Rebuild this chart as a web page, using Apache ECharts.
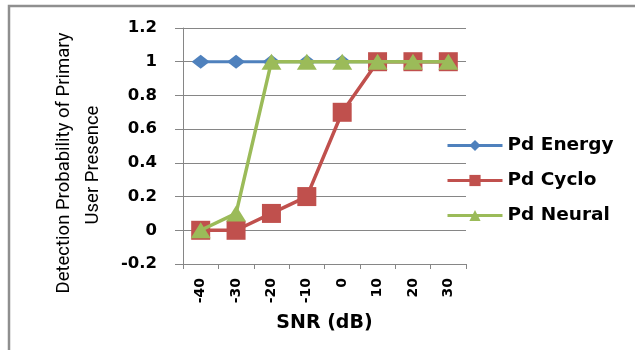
<!DOCTYPE html>
<html>
<head>
<meta charset="utf-8">
<script src="https://cdn.jsdelivr.net/npm/echarts@6/dist/echarts.min.js"></script>
<style>
  html, body { margin: 0; padding: 0; background: #ffffff; }
  #chart { width: 635px; height: 350px; }
</style>
</head>
<body>
<div id="chart"></div>
<script>
// SNR sweep (dB) and detection probability for each detector
const snrLabels = ['-40', '-30', '-20', '-10', '0', '10', '20', '30'];
const pdEnergy = [1, 1, 1, 1, 1, 1, 1, 1];
const pdCyclo  = [0, 0, 0.1, 0.2, 0.7, 1, 1, 1];
const pdNeural = [0, 0.1, 1, 1, 1, 1, 1, 1];

const seriesNames = ['Pd Energy', 'Pd Cyclo', 'Pd Neural'];
const seriesColors = ['#4F81BD', '#C0504D', '#9BBB59'];
const yTitleLines = ['Detection Probability of Primary', 'User Presence'];

const labelFont = 'DejaVu Sans, Open Sans, sans-serif';
const titleFont = '18.5px "Liberation Sans Narrow", Roboto, sans-serif';

const chart = echarts.init(document.getElementById('chart'), null, { renderer: 'canvas' });

chart.setOption({
  backgroundColor: '#ffffff',
  animation: false,
  grid: { left: 183, top: 28, right: 169, bottom: 86, containLabel: false },
  graphic: [
    {
      type: 'rect',
      shape: { x: 9, y: 6, width: 700, height: 400 },
      style: { fill: 'none', stroke: '#8f8f8f', lineWidth: 2.5 },
      silent: true
    },
    // two-line vertical title of the value axis
    {
      type: 'text', x: 64, y: 163, rotation: Math.PI / 2, silent: true,
      style: { text: yTitleLines[0], font: titleFont, fill: '#000', align: 'center', verticalAlign: 'middle' }
    },
    {
      type: 'text', x: 93, y: 165, rotation: Math.PI / 2, silent: true,
      style: { text: yTitleLines[1], font: titleFont, fill: '#000', align: 'center', verticalAlign: 'middle' }
    }
  ],
  legend: {
    orient: 'vertical',
    left: 441,
    top: 128,
    itemWidth: 55,
    itemHeight: 14,
    itemGap: 10,
    lineStyle: { width: 3 },
    textStyle: { fontFamily: labelFont, fontWeight: 'bold', fontSize: 18.5, color: '#000', lineHeight: 25 },
    data: seriesNames
  },
  xAxis: {
    type: 'category',
    data: snrLabels,
    boundaryGap: true,
    name: 'SNR (dB)',
    nameLocation: 'middle',
    nameGap: 50,
    nameTextStyle: { fontFamily: labelFont, fontWeight: 'bold', fontSize: 19, color: '#000' },
    axisLine: { onZero: false, lineStyle: { color: '#868686', width: 1 } },
    axisTick: { show: true, length: 5, lineStyle: { color: '#868686' } },
    axisLabel: { rotate: 90, interval: 0, margin: 14, fontFamily: labelFont, fontWeight: 'bold', fontSize: 14, color: '#000' },
    splitLine: { show: false }
  },
  yAxis: {
    type: 'value',
    min: -0.2,
    max: 1.2,
    interval: 0.2,
    axisLine: { show: true, lineStyle: { color: '#868686', width: 1 } },
    axisTick: { show: true, length: 8, lineStyle: { color: '#868686' } },
    axisLabel: { margin: 26, fontFamily: labelFont, fontWeight: 'bold', fontSize: 16.5, color: '#000' },
    splitLine: { show: true, lineStyle: { color: '#868686', width: 1 } }
  },
  series: [
    {
      name: seriesNames[0], type: 'line', data: pdEnergy,
      symbol: 'diamond', symbolSize: [18, 14],
      lineStyle: { width: 3, color: seriesColors[0] },
      itemStyle: { color: seriesColors[0] },
      z: 2
    },
    {
      name: seriesNames[1], type: 'line', data: pdCyclo,
      symbol: 'rect', symbolSize: 19,
      lineStyle: { width: 3.5, color: seriesColors[1] },
      itemStyle: { color: seriesColors[1] },
      z: 3
    },
    {
      name: seriesNames[2], type: 'line', data: pdNeural,
      symbol: 'triangle', symbolSize: [20, 16],
      lineStyle: { width: 3.5, color: seriesColors[2] },
      itemStyle: { color: seriesColors[2] },
      z: 4
    }
  ]
});
</script>
</body>
</html>
